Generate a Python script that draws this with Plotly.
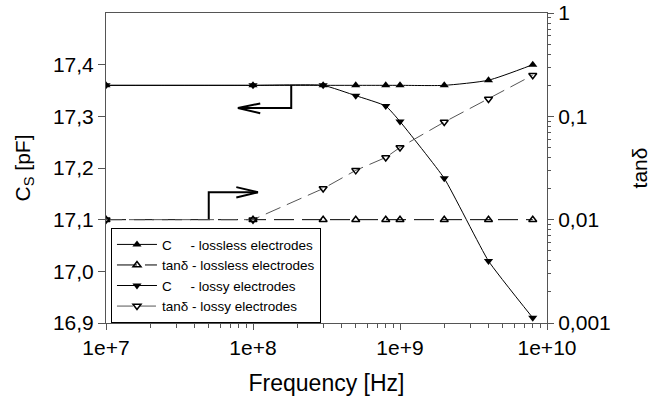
import plotly.graph_objects as go

# ---- data ----
freq = [1e7, 1e8, 3e8, 5e8, 8e8, 1e9, 2e9, 4e9, 8e9]
c_lossless = [17.36, 17.36, 17.36, 17.36, 17.36, 17.36, 17.36, 17.37, 17.40]
tan_lossless = [0.01, 0.01, 0.01, 0.01, 0.01, 0.01, 0.01, 0.01, 0.01]
c_lossy = [17.36, 17.36, 17.36, 17.34, 17.32, 17.29, 17.18, 17.02, 16.91]
tan_lossy = [0.01, 0.01, 0.02, 0.03, 0.04, 0.05, 0.088, 0.147, 0.25]

names = ["C     - lossless electrodes", "tanδ - lossless electrodes",
         "C     - lossy electrodes", "tanδ - lossy electrodes"]

y_ticks = [16.9, 17.0, 17.1, 17.2, 17.3, 17.4]
y_ticktext = ["16,9", "17,0", "17,1", "17,2", "17,3", "17,4"]
y2_ticks = [0.001, 0.01, 0.1, 1]
y2_ticktext = ["0,001", "0,01", "0,1", "1"]
x_ticks = [1e7, 1e8, 1e9, 1e10]
x_ticktext = ["1e+7", "1e+8", "1e+9", "1e+10"]

FONT = "Liberation Sans, Arial, sans-serif"
AX = "#555555"

fig = go.Figure()

fig.add_trace(go.Scatter(x=freq, y=c_lossless, name=names[0], mode="lines+markers",
                         line=dict(color="black", width=1, shape="spline", smoothing=0.6),
                         marker=dict(symbol="triangle-up", size=8, color="black")))
fig.add_trace(go.Scatter(x=freq, y=tan_lossless, name=names[1], mode="lines+markers", yaxis="y2",
                         line=dict(color="black", width=1, dash="20px,8px"),
                         marker=dict(symbol="triangle-up-open", size=7, color="black",
                                     line=dict(width=1.5))))
fig.add_trace(go.Scatter(x=freq, y=c_lossy, name=names[2], mode="lines+markers",
                         line=dict(color="black", width=1, shape="spline", smoothing=0.4),
                         marker=dict(symbol="triangle-down", size=8, color="black")))
fig.add_trace(go.Scatter(x=freq, y=tan_lossy, name=names[3], mode="lines+markers", yaxis="y2",
                         line=dict(color="#555555", width=1, dash="16px,7px"),
                         marker=dict(symbol="triangle-down-open", size=7, color="black",
                                     line=dict(width=1.5))))

# ---- axis-pointing arrows (annotation graphics) ----
arrow_style = dict(color="black", width=2)
fig.add_trace(go.Scatter(x=[1.82e8, 1.82e8, 7.9e7], y=[17.36, 17.316, 17.316],
                         mode="lines", line=arrow_style, showlegend=False, hoverinfo="skip"))
fig.add_trace(go.Scatter(x=[1.12e8, 7.9e7, 1.12e8], y=[17.325, 17.316, 17.306],
                         mode="lines", line=arrow_style, showlegend=False, hoverinfo="skip"))
fig.add_trace(go.Scatter(x=[5.0e7, 5.0e7, 1.08e8], y=[17.1, 17.153, 17.153],
                         mode="lines", line=arrow_style, showlegend=False, hoverinfo="skip"))
fig.add_trace(go.Scatter(x=[7.7e7, 1.08e8, 7.7e7], y=[17.163, 17.153, 17.143],
                         mode="lines", line=arrow_style, showlegend=False, hoverinfo="skip"))

minor_log = [m * 10 ** e for e in range(-3, 11) for m in range(2, 10)]

fig.update_layout(
    width=652, height=401,
    margin=dict(l=106, r=105, t=13, b=78),
    paper_bgcolor="white", plot_bgcolor="white",
    font=dict(family=FONT, size=21, color="black"),
    showlegend=True,
    legend=dict(x=0.0113, y=0.306, xanchor="left", yanchor="top",
                bordercolor="black", borderwidth=1, bgcolor="white",
                font=dict(size=13.5), tracegroupgap=0, itemwidth=40),
    xaxis=dict(type="log", range=[7, 10], tickvals=x_ticks, ticktext=x_ticktext,
               showline=True, linecolor=AX, linewidth=1, mirror=True, automargin=False,
               ticks="outside", ticklen=6, tickcolor=AX, showgrid=False, zeroline=False,
               minor=dict(tickvals=minor_log, ticks="outside", ticklen=4, tickcolor=AX,
                          showgrid=False),
               tickfont=dict(size=21),
               title=dict(text="Frequency [Hz]", font=dict(size=23), standoff=16)),
    yaxis=dict(range=[16.9, 17.5], tickvals=y_ticks, ticktext=y_ticktext,
               showline=True, linecolor=AX, linewidth=1, automargin=False,
               ticks="outside", ticklen=7, tickcolor=AX, showgrid=False, zeroline=False,
               tickfont=dict(size=21),
               title=dict(text="C<sub>S</sub> [pF]", font=dict(size=21), standoff=16)),
    yaxis2=dict(type="log", range=[-3, 0], overlaying="y", side="right",
                tickvals=y2_ticks, ticktext=y2_ticktext, automargin=False,
                showline=True, linecolor=AX, linewidth=1,
                ticks="outside", ticklen=6, tickcolor=AX, showgrid=False, zeroline=False,
                minor=dict(tickvals=minor_log, ticks="outside", ticklen=3, tickcolor=AX,
                           showgrid=False),
                tickfont=dict(size=21),
                title=dict(text="tanδ", font=dict(size=21), standoff=22)),
)

fig.write_html("out.html", config={"displayModeBar": False},
               post_script="document.body.style.margin='0px';")
